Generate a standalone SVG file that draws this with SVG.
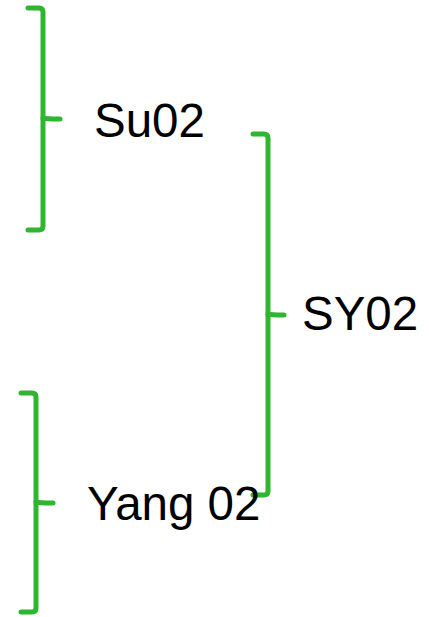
<svg xmlns="http://www.w3.org/2000/svg" width="429" height="617" viewBox="0 0 429 617">
<style>
.br{fill:none;stroke:#2fb52f;stroke-width:5;stroke-linecap:round;stroke-linejoin:round}
.lbl{font-family:"Liberation Sans",Arial,sans-serif;font-size:47.5px;fill:#000}
</style>
<rect width="429" height="617" fill="#fff"/>
<g id="connectors">
<g id="brace-su02">
<path class="br" d="M28,8 H39 Q43,8 43,12 V226 Q43,230 39,230 H28"/>
<path class="br" d="M43,118 Q45,119 60,119"/>
</g>
<g id="brace-sy02">
<path class="br" d="M253,134 H264 Q268,134 268,138 V491 Q268,495 264,495 H253"/>
<path class="br" d="M268,314 Q270,315 284,315"/>
</g>
<g id="brace-yang02">
<path class="br" d="M21,393 H32 Q36,393 36,397 V608 Q36,612 32,612 H21"/>
<path class="br" d="M36,502 Q38,503 53,503"/>
</g>
</g>
<g id="node-su02"><text class="lbl" x="94" y="137">Su02</text></g>
<g id="node-sy02"><text class="lbl" x="302" y="330">SY02</text></g>
<g id="node-yang02"><text class="lbl" x="87" y="520">Yang 02</text></g>
</svg>
